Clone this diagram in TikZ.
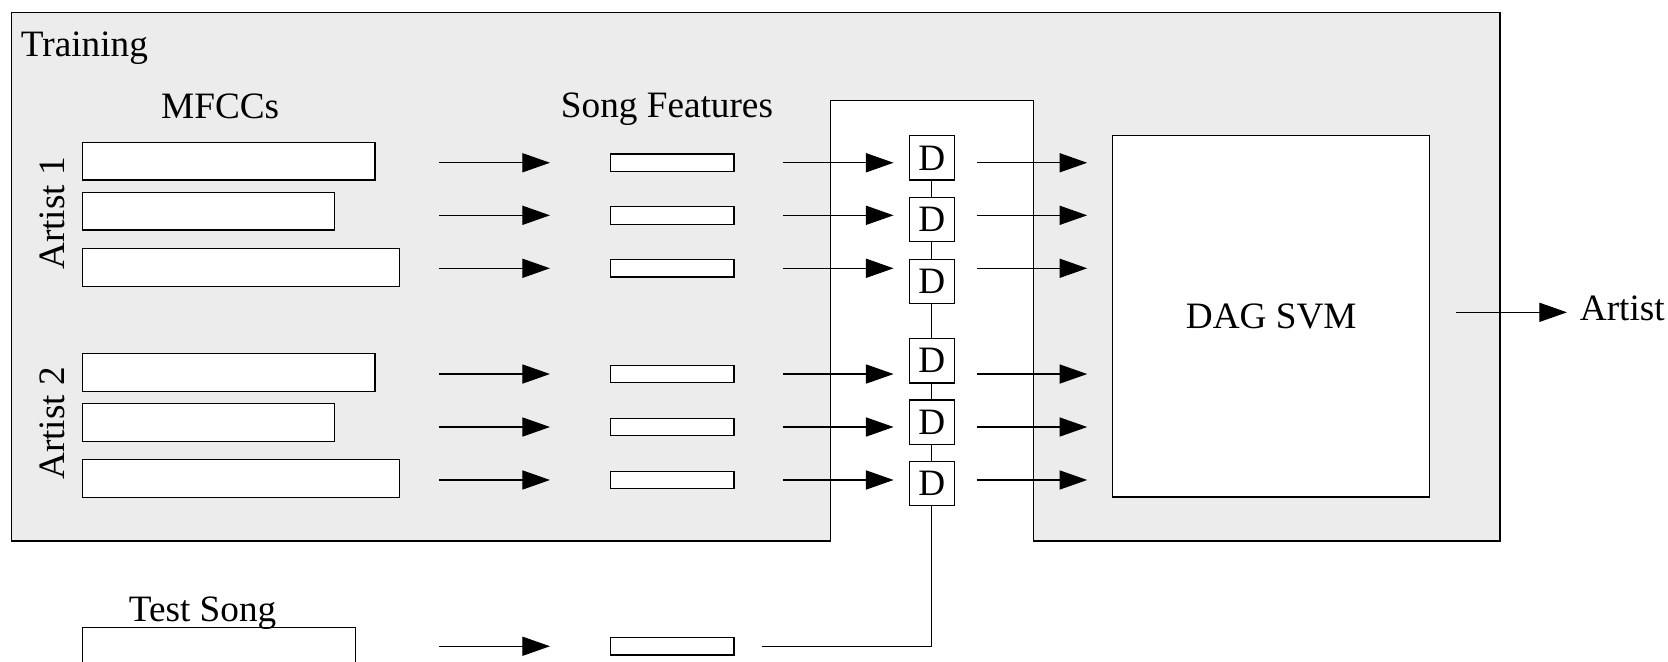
\documentclass[tikz,border=0pt]{standalone}
\usepackage{fontspec}
\setmainfont{Liberation Serif}
\usetikzlibrary{arrows.meta}
\definecolor{panelgrey}{RGB}{236,236,236}
\begin{document}
\begin{tikzpicture}[x=1pt,y=-1pt,
  bigfont/.style={font=\fontsize{35}{42}\selectfont},
  txt/.style={bigfont, inner sep=0pt},
  bar/.style={draw, fill=white, line width=1.1pt, inner sep=0pt, anchor=west, minimum height=35.5pt},
  feat/.style={draw, fill=white, line width=1.1pt, inner sep=0pt, minimum width=116pt, minimum height=16.5pt},
  dbox/.style={draw, fill=white, line width=1.1pt, inner sep=0pt, minimum width=42pt, minimum height=41.5pt, bigfont},
  flow/.style={line width=1.1pt, -{Triangle[length=26pt,width=18pt]}},
  wire/.style={line width=1.1pt},
]
\useasboundingbox (0,0) rectangle (1568,622);

% grey training panel, open at the bottom where the comparators sit
\draw[fill=panelgrey, line width=1.1pt]
  (11,12) -- (1410,12) -- (1410,508.5) -- (971.5,508.5) -- (971.5,94.6)
  -- (781,94.6) -- (781,508.5) -- (11,508.5) -- cycle;

% labels
\node[txt, anchor=base west] (training) at (19.5,53.3) {Training};
\node[txt, anchor=base] (mfcclbl) at (207,111) {MFCCs};
\node[txt, anchor=base] (featlbl) at (627,110) {Song Features};
\node[txt, anchor=base, rotate=90] (art1) at (61,200.5) {Artist 1};
\node[txt, anchor=base, rotate=90] (art2) at (61,398) {Artist 2};

% MFCC sequences of the training songs
\node[bar, minimum width=275pt] (m1) at (77,151.5) {};
\node[bar, minimum width=237pt] (m2) at (77,198.5) {};
\node[bar, minimum width=298pt] (m3) at (77,251.3) {};
\node[bar, minimum width=275pt] (m4) at (77,350) {};
\node[bar, minimum width=237pt] (m5) at (77,397) {};
\node[bar, minimum width=298pt] (m6) at (77,450) {};

% song feature vectors and the three columns of arrows
\foreach \y [count=\i] in {153,202.4,252.2,351.6,401.4,451.2} {
  \node[feat] (f\i) at (632,\y) {};
  \coordinate (a\i) at (413,\y);
  \coordinate (b\i) at (517,\y);
  \coordinate (c\i) at (736,\y);
  \coordinate (e\i) at (840,\y);
  \coordinate (g\i) at (918,\y);
  \coordinate (h\i) at (1022,\y);
  \draw[flow] (a\i) -- (b\i);
  \draw[flow] (c\i) -- (e\i);
  \draw[flow] (g\i) -- (h\i);
}

% distance computations
\foreach \y [count=\i] in {148.5,206.3,264.3,339.2,396.8,454.8}
  \node[dbox] (d\i) at (876,\y) {D};
\draw[wire] (d1) -- (d2) -- (d3) -- (d4) -- (d5) -- (d6);

% classifier
\node[draw, fill=white, line width=1.1pt, txt, minimum width=298pt,
      minimum height=339.5pt] (dag) at (1195,297.5) {DAG SVM};
\coordinate (o1) at (1369,293.6);
\coordinate (o2) at (1473,293.6);
\draw[flow] (o1) -- (o2);
\node[txt, anchor=base west] (artist) at (1485,301.4) {Artist};

% test song path
\node[draw, fill=white, line width=1.1pt, inner sep=0pt, anchor=north west,
      minimum width=257pt, minimum height=45pt] (test) at (77,589.5) {};
\node[txt, anchor=base west] (testlbl) at (121,584) {Test Song};
\node[feat] (f7) at (632,607.5) {};
\coordinate (ta) at (413,607.5);
\coordinate (tb) at (517,607.5);
\draw[flow] (ta) -- (tb);
\coordinate (tap) at (716,607.5);
\draw[wire] (d6) |- (tap);
\end{tikzpicture}
\end{document}
